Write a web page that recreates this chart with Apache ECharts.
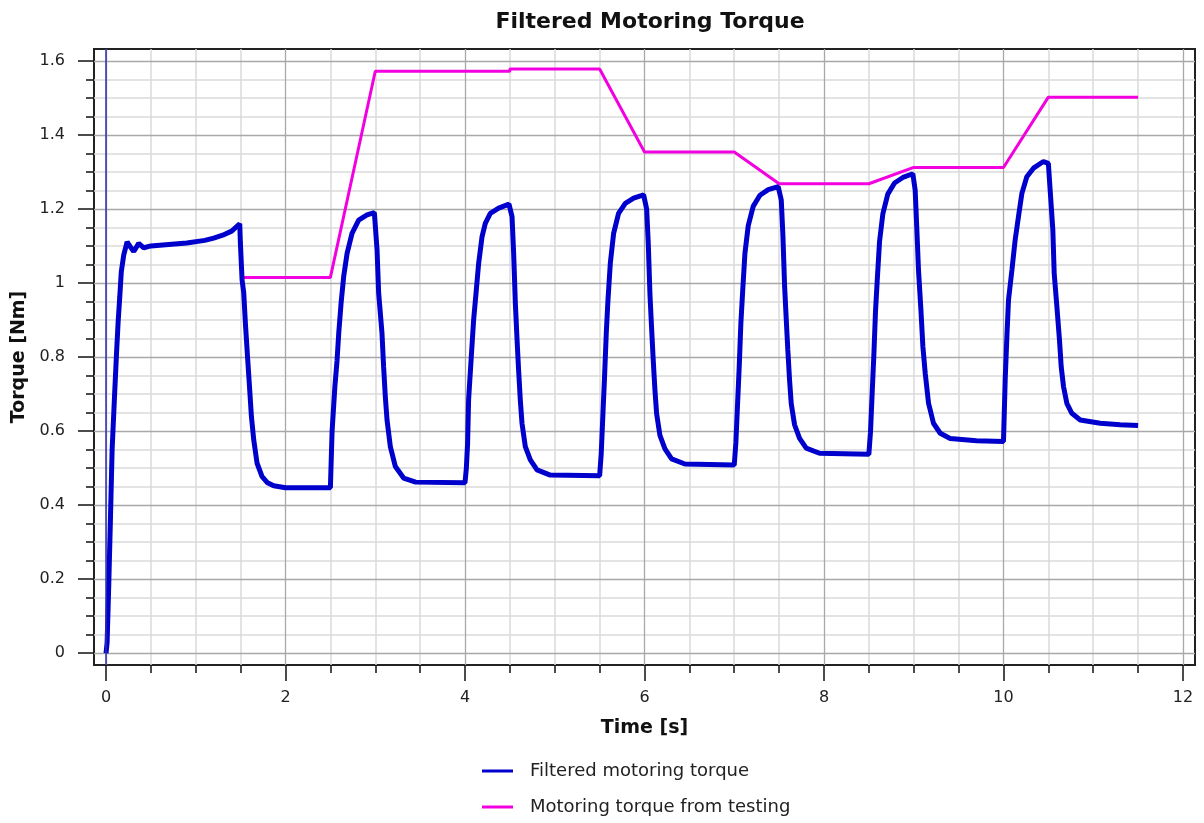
<!DOCTYPE html>
<html>
<head>
<meta charset="utf-8">
<title>Filtered Motoring Torque</title>
<script src="https://cdn.jsdelivr.net/npm/echarts/dist/echarts.min.js"></script>
<style>
  html, body { margin: 0; padding: 0; background: #fff; }
  #main { width: 1204px; height: 823px; }
</style>
</head>
<body>
<div id="main"></div>
<script>
  // filtered torque
  var filteredTime = [
    0, 0.012, 0.03, 0.05, 0.068, 0.094, 0.116, 0.135, 0.153, 0.17, 0.197, 0.235, 0.27, 0.309, 0.364, 0.42,
    0.5, 0.7, 0.9, 1.1, 1.2, 1.3, 1.4, 1.49,
    1.497, 1.516, 1.534, 1.553, 1.579, 1.601, 1.62, 1.646, 1.683, 1.739, 1.8, 1.868, 2.0, 2.5,
    2.519, 2.55, 2.574, 2.593, 2.619, 2.648, 2.686, 2.741, 2.815, 2.908, 2.99,
    3.02, 3.038, 3.075, 3.093, 3.112, 3.131, 3.168, 3.224, 3.316, 3.45, 4.0,
    4.015, 4.029, 4.04, 4.07, 4.096, 4.126, 4.152, 4.19, 4.226, 4.282, 4.375, 4.49,
    4.524, 4.542, 4.561, 4.58, 4.597, 4.616, 4.635, 4.672, 4.728, 4.802, 4.95, 5.5,
    5.518, 5.537, 5.555, 5.574, 5.593, 5.619, 5.656, 5.711, 5.786, 5.879, 5.99,
    6.024, 6.042, 6.061, 6.08, 6.097, 6.116, 6.135, 6.172, 6.228, 6.302, 6.45, 7.0,
    7.018, 7.037, 7.055, 7.074, 7.093, 7.119, 7.156, 7.211, 7.286, 7.379, 7.49,
    7.524, 7.542, 7.561, 7.58, 7.597, 7.616, 7.635, 7.672, 7.728, 7.802, 7.95, 8.5,
    8.518, 8.537, 8.555, 8.574, 8.593, 8.619, 8.656, 8.711, 8.786, 8.879, 8.99,
    9.016, 9.035, 9.053, 9.08, 9.102, 9.128, 9.165, 9.22, 9.295, 9.406, 9.7, 10.0,
    10.019, 10.038, 10.056, 10.094, 10.13, 10.167, 10.205, 10.26, 10.334, 10.445, 10.5,
    10.52, 10.55, 10.565, 10.595, 10.624, 10.643, 10.669, 10.706, 10.762, 10.855, 11.078, 11.3, 11.5
  ]
  var filteredTorque = [
    0, 0.028, 0.18, 0.37, 0.55, 0.69, 0.805, 0.895, 0.962, 1.03, 1.075, 1.111, 1.098, 1.085, 1.107, 1.095,
    1.100, 1.104, 1.108, 1.115, 1.121, 1.129, 1.140, 1.160,
    1.108, 1.008, 0.975, 0.891, 0.792, 0.711, 0.639, 0.576, 0.513, 0.477, 0.460, 0.452, 0.447, 0.447,
    0.60, 0.72, 0.79, 0.864, 0.945, 1.017, 1.080, 1.134, 1.170, 1.184, 1.190,
    1.089, 0.972, 0.864, 0.774, 0.693, 0.630, 0.558, 0.504, 0.473, 0.462, 0.460,
    0.50, 0.567, 0.684, 0.801, 0.900, 0.981, 1.053, 1.125, 1.161, 1.188, 1.202, 1.213,
    1.179, 1.080, 0.945, 0.846, 0.765, 0.684, 0.621, 0.558, 0.522, 0.495, 0.481, 0.479,
    0.540, 0.648, 0.747, 0.864, 0.954, 1.053, 1.134, 1.188, 1.215, 1.229, 1.238,
    1.20, 1.107, 0.968, 0.873, 0.793, 0.712, 0.647, 0.588, 0.552, 0.525, 0.511, 0.508,
    0.568, 0.673, 0.771, 0.892, 0.974, 1.08, 1.155, 1.207, 1.237, 1.252, 1.260,
    1.224, 1.13, 0.992, 0.899, 0.819, 0.739, 0.674, 0.617, 0.58, 0.554, 0.540, 0.537,
    0.597, 0.703, 0.802, 0.923, 1.006, 1.112, 1.187, 1.24, 1.27, 1.285, 1.295,
    1.251, 1.143, 1.035, 0.927, 0.828, 0.756, 0.675, 0.621, 0.594, 0.580, 0.574, 0.572,
    0.738, 0.855, 0.954, 1.035, 1.116, 1.179, 1.242, 1.287, 1.310, 1.328, 1.323,
    1.251, 1.143, 1.026, 0.936, 0.846, 0.774, 0.720, 0.675, 0.648, 0.630, 0.621, 0.617, 0.615
  ]

  // torque from testing
  var testingTime = [1.5, 2.5, 3.0, 4.5, 4.5, 5.5, 6.0, 7.0, 7.5, 8.5, 9.0, 10.0, 10.5, 11.5]
  var testingTorque = [1.015, 1.015, 1.572, 1.572, 1.578, 1.578, 1.354, 1.354, 1.268, 1.268, 1.312, 1.312, 1.502, 1.502]

  // ticks
  var xMajorTicks = [0, 2, 4, 6, 8, 10, 12]
  var xMinorTicks = [0.5, 1, 1.5, 2.5, 3, 3.5, 4.5, 5, 5.5, 6.5, 7, 7.5, 8.5, 9, 9.5, 10.5, 11, 11.5]
  var yMajorTicks = [0, 0.2, 0.4, 0.6, 0.8, 1, 1.2, 1.4, 1.6]
  var yMinorTicks = [0.05, 0.1, 0.15, 0.25, 0.3, 0.35, 0.45, 0.5, 0.55, 0.65, 0.7, 0.75,
    0.85, 0.9, 0.95, 1.05, 1.1, 1.15, 1.25, 1.3, 1.35, 1.45, 1.5, 1.55]

  var xRange = [-0.134, 12.134]
  var yRange = [-0.032, 1.632]

  var FONT = '"DejaVu Sans", Verdana, sans-serif'

  function zip (xs, ys) {
    return xs.map(function (x, i) { return [x, ys[i]] })
  }

  function majorAxis (range, ticks, position, opts) {
    return Object.assign({
      type: 'value',
      position: position,
      min: range[0],
      max: range[1],
      z: 1,
      axisLine: { show: false, onZero: false },
      axisTick: {
        show: true,
        inside: false,
        length: 16,
        customValues: ticks,
        lineStyle: { color: '#111', width: 1.5 }
      },
      splitLine: {
        show: true,
        lineStyle: { color: '#a8a8a8', width: 1.3 }
      },
      nameTextStyle: {
        color: '#111',
        fontFamily: FONT,
        fontWeight: 'bold',
        fontSize: 19
      }
    }, opts)
  }

  function minorAxis (range, ticks, position) {
    return {
      type: 'value',
      position: position,
      min: range[0],
      max: range[1],
      z: 0,
      axisLine: { show: false, onZero: false },
      axisTick: {
        show: true,
        inside: false,
        length: 8,
        customValues: ticks,
        lineStyle: { color: '#111', width: 1.5 }
      },
      axisLabel: { show: false, customValues: ticks },
      splitLine: {
        show: true,
        lineStyle: { color: '#dadada', width: 1.5 }
      }
    }
  }

  var chart = echarts.init(document.getElementById('main'))

  var options = {
    animation: false,
    backgroundColor: '#fff',
    title: {
      text: 'Filtered Motoring Torque',
      left: 645,
      textAlign: 'center',
      top: 6,
      textStyle: {
        color: '#111',
        fontFamily: FONT,
        fontWeight: 'bold',
        fontSize: 22
      }
    },
    grid: {
      left: 94,
      right: 9,
      top: 49,
      bottom: 158,
      show: true,
      borderColor: '#222',
      borderWidth: 2
    },
    legend: {
      orient: 'vertical',
      left: 482,
      top: 762,
      padding: 0,
      icon: 'rect',
      itemWidth: 31,
      itemHeight: 3,
      itemGap: 18,
      textStyle: {
        color: '#222',
        fontFamily: FONT,
        fontSize: 18,
        padding: [0, 0, 0, 12]
      },
      data: ['Filtered motoring torque', 'Motoring torque from testing']
    },
    xAxis: [
      majorAxis(xRange, xMajorTicks, 'bottom', {
        name: 'Time [s]',
        nameLocation: 'middle',
        nameGap: 54,
        axisLabel: {
          customValues: xMajorTicks,
          color: '#222',
          fontFamily: FONT,
          fontSize: 16,
          margin: 25
        }
      }),
      minorAxis(xRange, xMinorTicks, 'bottom')
    ],
    yAxis: [
      majorAxis(yRange, yMajorTicks, 'left', {
        name: 'Torque [Nm]',
        nameLocation: 'middle',
        nameGap: 64,
        axisLabel: {
          customValues: yMajorTicks,
          color: '#222',
          fontFamily: FONT,
          fontSize: 16,
          margin: 29
        }
      }),
      minorAxis(yRange, yMinorTicks, 'left')
    ],
    series: [
      {
        name: 'Filtered motoring torque',
        type: 'line',
        xAxisIndex: 0,
        yAxisIndex: 0,
        symbol: 'none',
        color: '#0000cc',
        lineStyle: { color: '#0000cc', width: 5 },
        z: 4,
        data: zip(filteredTime, filteredTorque),
        markLine: {
          silent: true,
          symbol: ['none', 'none'],
          label: { show: false },
          lineStyle: { color: '#2d2db4', width: 1.5, type: 'solid' },
          data: [{ xAxis: 0 }]
        }
      },
      {
        name: 'Motoring torque from testing',
        type: 'line',
        xAxisIndex: 0,
        yAxisIndex: 0,
        symbol: 'none',
        color: '#f200e0',
        lineStyle: { color: '#f200e0', width: 3 },
        z: 3,
        data: zip(testingTime, testingTorque)
      }
    ]
  }

  chart.setOption(options)
  window.addEventListener('resize', function () {
    chart.resize()
  })
</script>
</body>
</html>
